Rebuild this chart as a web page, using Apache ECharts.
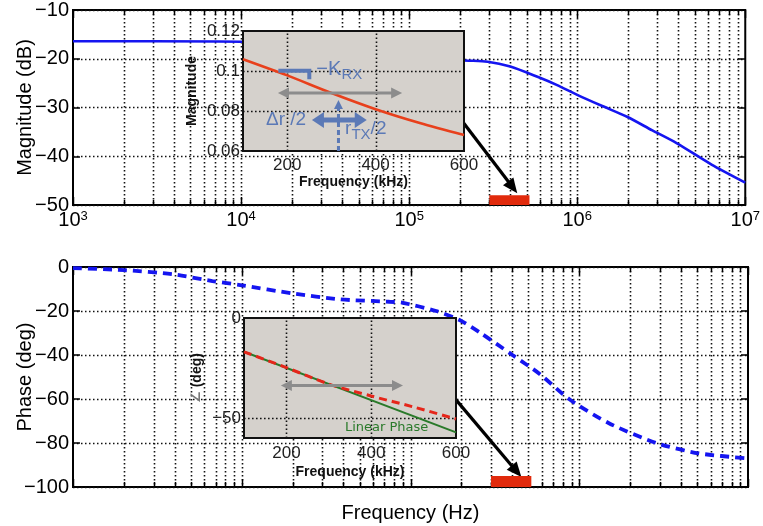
<!DOCTYPE html>
<html><head><meta charset="utf-8">
<script src="https://cdn.jsdelivr.net/npm/echarts@6/dist/echarts.min.js"></script>
<style>html,body{margin:0;padding:0;background:#fff}#c{width:763px;height:526px}</style>
</head><body><div id="c"></div><script>
// ---------- data ----------
const magFreq = [1e3, 3e3, 1e4, 3e4, 1e5, 2.05e5, 2.93e5, 4.0e5, 5.8e5, 7.6e5, 1e6, 1.41e6, 1.98e6, 2.8e6, 3.9e6, 6.3e6, 1e7];
const magDb   = [-16.4, -16.4, -16.5, -17.3, -19.0, -20.3, -20.6, -21.6, -23.7, -25.4, -27.4, -29.7, -31.9, -34.7, -37.3, -41.7, -45.4];
const phFreq  = [1e3, 2e3, 3.9e3, 6.7e3, 1e4, 2e4, 3.8e4, 7.5e4, 8.9e4, 1.42e5, 1.94e5, 2.6e5, 4.02e5, 5.8e5, 8.7e5, 1.5e6, 2.86e6, 5.1e6, 1e7];
const phDeg   = [-0.5, -1.4, -3.3, -6.4, -8.3, -12, -14.7, -15.8, -16.2, -20, -24, -30, -40, -48.5, -60, -71, -80, -84.7, -87];
const insetFreq  = [100, 200, 300, 400, 500, 600];          // kHz
const insetMag   = [0.1059, 0.0978, 0.089, 0.0809, 0.074, 0.068];
const insetPhase = [-16.9, -24.8, -33, -39, -44.5, -50.5];
const linFreq    = [100, 600];
const linPhase   = [-16.9, -57.2];
const zoomBand   = [3e5, 5.2e5];                          // Hz
const mantissas  = [1, 2, 3, 4, 5, 6, 7, 8, 9];
const decades    = [1e3, 1e4, 1e5, 1e6];
const lastDecade = 1e7;
const insetGridX = [200, 400];
const insetLabelsX = [200, 400, 600];
const insetPhLabels = [0, -50];

const FONT = "'Liberation Sans', Arial, Helvetica, sans-serif";
const xTicks = [];
decades.forEach(d => mantissas.forEach(m => xTicks.push([m * d, m === 1 ? 1 : 0])));
xTicks.push([lastDecade, 1]);

const minus = v => (v < 0 ? '\u2212' + Math.abs(v) : String(v));
const dotted = { color: '#111', width: 1.4, type: [1.5, 2.5] };
const DOT = { stroke: '#111', lineWidth: 1.6, lineDash: [1.6, 2.4] };
const px = v => Math.round(v) + 0.5;

function arrowEls(p1, p2, o) {
  const dx = p2[0] - p1[0], dy = p2[1] - p1[1], L = Math.hypot(dx, dy);
  const ux = dx / L, uy = dy / L, nx = -uy, ny = ux;
  const hl = o.headLen, hw = o.headW / 2;
  const s = o.both ? [p1[0] + ux * hl * 0.8, p1[1] + uy * hl * 0.8] : p1;
  const e = [p2[0] - ux * hl * 0.8, p2[1] - uy * hl * 0.8];
  const els = [{ type: 'line', shape: { x1: s[0], y1: s[1], x2: e[0], y2: e[1] },
    style: { stroke: o.color, lineWidth: o.width, lineDash: o.dash || null } }];
  const head = (tip, vx, vy) => ({ type: 'polygon', shape: { points: [tip,
    [tip[0] - vx * hl + nx * hw, tip[1] - vy * hl + ny * hw],
    [tip[0] - vx * hl - nx * hw, tip[1] - vy * hl - ny * hw]] }, style: { fill: o.color } });
  els.push(head(p2, ux, uy));
  if (o.both) els.push(head(p1, -ux, -uy));
  return els;
}

function gridLinesRender(params, api) {
  const cs = params.coordSys;
  const f = api.value(0), major = api.value(2) === 1;
  const x = px(api.coord([f, api.value(1)])[0]);
  const ch = [];
  const edge = Math.abs(x - cs.x) < 2 || Math.abs(x - cs.x - cs.width) < 2;
  if (!edge) ch.push({ type: 'line', shape: { x1: x, y1: cs.y, x2: x, y2: cs.y + cs.height }, style: DOT });
  const L = major ? 8 : 5;
  ch.push({ type: 'line', shape: { x1: x, y1: cs.y + cs.height, x2: x, y2: cs.y + cs.height - L }, style: { stroke: '#000', lineWidth: 1.5 } });
  ch.push({ type: 'line', shape: { x1: x, y1: cs.y, x2: x, y2: cs.y + L }, style: { stroke: '#000', lineWidth: 1.5 } });
  return { type: 'group', children: ch };
}

function insetGridRender(yMin, yMax, hLines) {
  return function (params, api) {
    const ch = [];
    insetGridX.forEach(gx => {
      const a = api.coord([gx, yMin]), b = api.coord([gx, yMax]);
      ch.push({ type: 'line', shape: { x1: px(a[0]), y1: a[1], x2: px(b[0]), y2: b[1] }, style: DOT });
    });
    hLines.forEach(gy => {
      const a = api.coord([100, gy]), b = api.coord([600, gy]);
      ch.push({ type: 'line', shape: { x1: a[0], y1: px(a[1]), x2: b[0], y2: px(b[1]) }, style: DOT });
    });
    return { type: 'group', children: ch };
  };
}

function bandRender(yLo, yHi) {
  return function (params, api) {
    const a = api.coord([zoomBand[0], yLo]), b = api.coord([zoomBand[1], yHi]);
    return { type: 'rect', shape: { x: a[0], y: b[1], width: b[0] - a[0], height: a[1] - b[1] }, style: { fill: '#e12a0c' } };
  };
}

const BLUE_A = '#5b79b6';
const GRAY_A = '#8c8c8c';

function topInsetAnno(params, api) {
  const c = v => api.coord(v);
  const ch = [];
  const b1 = c([180, 0.1001]), b2 = c([250, 0.1001]), b3 = c([250, 0.0959]);
  ch.push({ type: 'polyline', shape: { points: [b1, b2, b3] }, style: { stroke: BLUE_A, lineWidth: 4, fill: null } });
  ch.push(...arrowEls(c([179, 0.089]), c([460, 0.089]), { color: GRAY_A, width: 3, headLen: 11, headW: 11, both: true }));
  ch.push(...arrowEls(c([316, 0.06]), c([316, 0.0855]), { color: BLUE_A, width: 3, headLen: 9, headW: 9, dash: [5, 3] }));
  ch.push(...arrowEls(c([256, 0.0755]), c([380, 0.0755]), { color: BLUE_A, width: 5, headLen: 12, headW: 16, both: true }));
  const tk = c([266, 0.1007]);
  ch.push({ type: 'text', x: tk[0], y: tk[1], style: { text: '\u2212K{s|RX}', fill: BLUE_A, font: '20px ' + FONT, align: 'left', verticalAlign: 'middle',
    rich: { s: { fontSize: 15, fontFamily: FONT, fill: BLUE_A, padding: [10, 0, 0, 0] } } } });
  const td = c([152, 0.0755]);
  ch.push({ type: 'text', x: td[0], y: td[1], style: { text: '\u0394r /2', fill: BLUE_A, font: '19px ' + FONT, align: 'left', verticalAlign: 'middle' } });
  const tr = c([331, 0.0712]);
  ch.push({ type: 'text', x: tr[0], y: tr[1], style: { text: 'r{s|TX}/2', fill: BLUE_A, font: '19px ' + FONT, align: 'left', verticalAlign: 'middle',
    rich: { s: { fontSize: 15, fontFamily: FONT, fill: BLUE_A, padding: [12, 0, 0, 0] } } } });
  return { type: 'group', children: ch };
}

function botInsetAnno(params, api) {
  const c = v => api.coord(v);
  const ch = [];
  ch.push(...arrowEls(c([187, -33.7]), c([475, -33.7]), { color: GRAY_A, width: 3, headLen: 11, headW: 11, both: true }));
  const t = c([338, -55]);
  ch.push({ type: 'text', x: t[0], y: t[1], style: { text: 'Linear Phase', fill: '#2a7a2a', font: "13px 'DejaVu Sans', sans-serif", align: 'left', verticalAlign: 'middle' } });
  return { type: 'group', children: ch };
}

function mainArrow(from, to) {
  return function (params, api) {
    return { type: 'group', children: arrowEls(api.coord(from), api.coord(to), { color: '#000', width: 3.2, headLen: 15, headW: 13 }) };
  };
}

const chart = echarts.init(document.getElementById('c'), null, { renderer: 'canvas' });

const mainGrid = { show: true, borderColor: '#000', borderWidth: 2, backgroundColor: 'transparent' };
const logX = (gi, labels, extra) => Object.assign({
  type: 'log', logBase: 10, gridIndex: gi, min: 1e3, max: 1e7, splitNumber: 4, position: 'bottom',
  axisLine: { show: false }, axisTick: { show: false }, splitLine: { show: false }, minorTick: { show: false },
  axisLabel: labels ? {
    margin: 5, showMinLabel: true, showMaxLabel: true,
    formatter: v => '{b|10}{s|' + Math.round(Math.log10(v)) + '}',
    rich: { b: { fontSize: 20, fontFamily: FONT, color: '#000' }, s: { fontSize: 13, fontFamily: FONT, color: '#000', verticalAlign: 'top' } }
  } : { show: false }
}, extra || {});

const yMain = (gi, min, max, iv, name) => ({
  type: 'value', gridIndex: gi, min, max, interval: iv, position: 'left',
  axisLine: { show: false }, axisTick: { show: true, inside: true, length: 7, lineStyle: { color: '#000', width: 1.5 } },
  axisLabel: { fontSize: 20, fontFamily: FONT, color: '#000', margin: 4, formatter: minus },
  splitLine: { show: true, lineStyle: dotted },
  name, nameLocation: 'middle', nameGap: 38, nameRotate: 90, nameMoveOverlap: false,
  nameTextStyle: { fontSize: 20, fontFamily: FONT, color: '#000' }
});
const yRight = (gi, min, max, iv) => ({
  type: 'value', gridIndex: gi, min, max, interval: iv, position: 'right',
  axisLine: { show: false }, axisTick: { show: true, inside: true, length: 7, lineStyle: { color: '#000', width: 1.5 } },
  axisLabel: { show: false }, splitLine: { show: false }
});

const insetX = (gi, nameGap, margin) => ({
  type: 'value', gridIndex: gi, min: 100, max: 600, interval: 100, z: 12,
  axisLine: { show: false }, axisTick: { show: false }, splitLine: { show: false },
  axisLabel: { fontSize: 17, fontFamily: FONT, color: '#222', margin, formatter: v => (insetLabelsX.indexOf(v) >= 0 ? String(v) : '') },
  name: 'Frequency (kHz)', nameLocation: 'middle', nameGap, nameMoveOverlap: false,
  nameTextStyle: { fontSize: 14, fontWeight: 'bold', fontFamily: FONT, color: '#111' }
});

chart.setOption({
  animation: false,
  backgroundColor: '#fff',
  grid: [
    Object.assign({ left: 73, top: 10, width: 675, height: 195 }, mainGrid),
    Object.assign({ left: 73, top: 267, width: 675, height: 220 }, mainGrid),
    { left: 243, top: 31, width: 221, height: 120, show: true, z: 10, backgroundColor: '#d5d1cc', borderColor: '#111', borderWidth: 2 },
    { left: 244, top: 318, width: 212, height: 120, show: true, z: 10, backgroundColor: '#d5d1cc', borderColor: '#111', borderWidth: 2 }
  ],
  xAxis: [
    logX(0, true),
    logX(1, false, { name: 'Frequency (Hz)', nameLocation: 'middle', nameGap: 16, nameMoveOverlap: false, nameTextStyle: { fontSize: 20, fontFamily: FONT, color: '#000' } }),
    insetX(2, 24, 6),
    insetX(3, 27, 7)
  ],
  yAxis: [
    yMain(0, -50, -10, 10, 'Magnitude (dB)'),
    yMain(1, -100, 0, 20, 'Phase (deg)'),
    {
      type: 'value', gridIndex: 2, min: 0.06, max: 0.12, interval: 0.02, z: 12,
      axisLine: { show: false }, axisTick: { show: false }, splitLine: { show: false },
      axisLabel: { fontSize: 17, fontFamily: FONT, color: '#222', margin: 3 },
      name: 'Magnitude', nameLocation: 'middle', nameGap: 44, nameRotate: 90, nameMoveOverlap: false,
      nameTextStyle: { fontSize: 14, fontWeight: 'bold', fontFamily: FONT, color: '#111' }
    },
    {
      type: 'value', gridIndex: 3, min: -60, max: 0, interval: 10, z: 12,
      axisLine: { show: false }, axisTick: { show: false }, splitLine: { show: false },
      axisLabel: { fontSize: 17, fontFamily: FONT, color: '#222', margin: 3, formatter: v => (insetPhLabels.indexOf(v) >= 0 ? minus(v) : '') },
      name: '{g|\u2220} (deg)', nameLocation: 'middle', nameGap: 40, nameRotate: 90, nameMoveOverlap: false,
      nameTextStyle: { fontSize: 14, fontWeight: 'bold', fontFamily: FONT, color: '#111', rich: { g: { fontSize: 13, color: '#777', fontFamily: "'DejaVu Sans', sans-serif" } } }
    },
    yRight(0, -50, -10, 10),
    yRight(1, -100, 0, 20)
  ],
  series: [
    { type: 'custom', xAxisIndex: 0, yAxisIndex: 0, z: 1, silent: true, renderItem: gridLinesRender, data: xTicks.map(t => [t[0], -50, t[1]]) },
    { type: 'custom', xAxisIndex: 1, yAxisIndex: 1, z: 1, silent: true, renderItem: gridLinesRender, data: xTicks.map(t => [t[0], -100, t[1]]) },
    {
      type: 'line', xAxisIndex: 0, yAxisIndex: 0, z: 3, symbol: 'none', smooth: 0.25,
      lineStyle: { color: '#1515f0', width: 2.6 },
      data: magFreq.map((f, i) => [f, magDb[i]])
    },
    {
      type: 'line', xAxisIndex: 1, yAxisIndex: 1, z: 3, symbol: 'none', smooth: 0.25,
      lineStyle: { color: '#1515f0', width: 3.8, type: [9, 6] },
      data: phFreq.map((f, i) => [f, phDeg[i]])
    },
    { type: 'custom', xAxisIndex: 0, yAxisIndex: 0, z: 5, silent: true, renderItem: bandRender(-50, -48), data: [[4e5, -49]] },
    { type: 'custom', xAxisIndex: 1, yAxisIndex: 1, z: 5, silent: true, renderItem: bandRender(-100, -95), data: [[4e5, -97]] },
    { type: 'custom', xAxisIndex: 0, yAxisIndex: 0, z: 4, silent: true, renderItem: mainArrow([2.05e5, -32.6], [4.4e5, -47.6]), data: [[1e5, -30]] },
    { type: 'custom', xAxisIndex: 1, yAxisIndex: 1, z: 4, silent: true, renderItem: mainArrow([1.82e5, -59.5], [4.54e5, -95.5]), data: [[1e5, -50]] },
    // insets
    { type: 'custom', xAxisIndex: 2, yAxisIndex: 2, z: 11, silent: true, renderItem: insetGridRender(0.06, 0.12, [0.08, 0.1]), data: [[300, 0.09]] },
    { type: 'custom', xAxisIndex: 3, yAxisIndex: 3, z: 11, silent: true, renderItem: insetGridRender(-60, 0, [-50]), data: [[300, -30]] },
    { type: 'line', xAxisIndex: 2, yAxisIndex: 2, z: 13, symbol: 'none', smooth: 0.3, lineStyle: { color: '#e8401c', width: 2.6 },
      data: insetFreq.map((f, i) => [f, insetMag[i]]) },
    { type: 'line', xAxisIndex: 3, yAxisIndex: 3, z: 13, symbol: 'none', lineStyle: { color: '#2a7a2a', width: 2 },
      data: linFreq.map((f, i) => [f, linPhase[i]]) },
    { type: 'line', xAxisIndex: 3, yAxisIndex: 3, z: 14, symbol: 'none', smooth: 0.3, lineStyle: { color: '#e5261a', width: 3, type: [8, 5] },
      data: insetFreq.map((f, i) => [f, insetPhase[i]]) },
    { type: 'custom', xAxisIndex: 2, yAxisIndex: 2, z: 15, silent: true, renderItem: topInsetAnno, data: [[300, 0.09]] },
    { type: 'custom', xAxisIndex: 3, yAxisIndex: 3, z: 15, silent: true, renderItem: botInsetAnno, data: [[300, -30]] }
  ]
});
</script></body></html>
